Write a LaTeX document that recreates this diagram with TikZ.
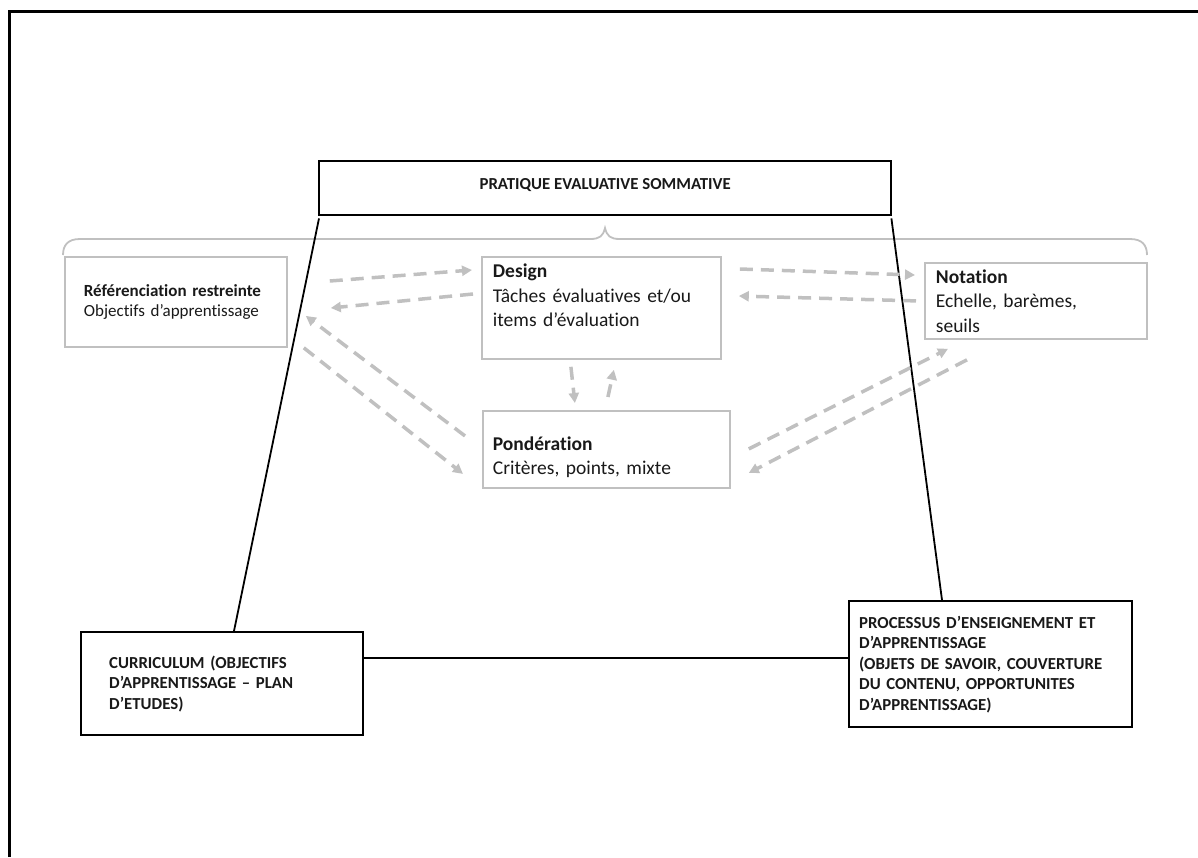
\documentclass[tikz,border=0pt]{standalone}
\usepackage{fontspec}
\setmainfont{Carlito}[Ligatures=NoCommon]
\usetikzlibrary{arrows.meta}
\definecolor{lightgr}{RGB}{192,192,192}
\definecolor{ink}{RGB}{25,25,25}

\begin{document}
\begin{tikzpicture}[x=1pt,y=-1pt,
	graybox/.style={draw=lightgr,line width=1.8pt,anchor=north west,align=left,inner xsep=11pt,inner ysep=0pt,text=ink},
	blackbox/.style={draw=black,line width=2.4pt,anchor=north west,align=left,inner xsep=10pt,inner ysep=0pt,text=ink,font=\fontsize{16.8}{20.5}\selectfont\bfseries},
	flow/.style={draw=lightgr,line width=3.5pt,dash pattern=on 13pt off 8pt,-{Triangle[length=10pt,width=10pt]}}]
	\useasboundingbox (0,0) rectangle (1198,857);
	\draw[line width=3pt](9,857)--(9,11)--(1198,11);
	\node[blackbox,minimum width=572pt,minimum height=54pt,align=center,text height=11pt,text depth=9pt](top) at (318,160){PRATIQUE EVALUATIVE SOMMATIVE};
	\draw[lightgr,line width=1.8pt](63,255) .. controls (63,245) and (68,239) .. (80,239)--(590,239) .. controls (600,239) and (603,236) .. (605,228) .. controls (607,236) and (610,239) .. (620,239)--(1130,239) .. controls (1142,239) and (1147,245) .. (1147,255);
	\node[graybox,font=\fontsize{17}{20}\selectfont,minimum width=222pt,minimum height=90pt,inner xsep=19pt,text width=184pt](ref) at (64,256){\textbf{Référenciation restreinte}\\Objectifs d’apprentissage};
	\node[graybox,font=\fontsize{19.5}{24.5}\selectfont,minimum width=239pt,minimum height=102pt,text width=217pt](design) at (481,256){\textbf{Design}\\Tâches évaluatives et/ou\\items d’évaluation\\\mbox{}};
	\node[graybox,font=\fontsize{19.5}{24.5}\selectfont,minimum width=222pt,minimum height=76pt,text width=200pt](notation) at (924,262){\textbf{Notation}\\Echelle, barèmes,\\seuils};
	\node[graybox,font=\fontsize{19.5}{24.5}\selectfont,minimum width=247pt,minimum height=77pt,inner xsep=10pt,text width=227pt,text depth=12pt](pond) at (482,410){\textbf{Pondération}\\Critères, points, mixte};
	\node[blackbox,minimum width=282pt,minimum height=103pt,inner xsep=28pt,text width=226pt](curr) at (80,631){CURRICULUM (OBJECTIFS\\D’APPRENTISSAGE – PLAN\\D’ETUDES)};
	\node[blackbox,minimum width=283pt,minimum height=126pt,text width=263pt](proc) at (848,600){PROCESSUS D’ENSEIGNEMENT ET\\D’APPRENTISSAGE\\(OBJETS DE SAVOIR, COUVERTURE\\DU CONTENU, OPPORTUNITES\\D’APPRENTISSAGE)};
	\draw[line width=1.8pt]([shift={(1,2)}]top.south west)--([shift={(154,0)}]curr.north west);
	\draw[line width=1.8pt]([shift={(-1,2)}]top.south east)--([shift={(94,0)}]proc.north west);
	\draw[line width=1.8pt]([shift={(0,27)}]curr.north east)--([shift={(0,58)}]proc.north west);
	\draw[flow]([shift={(42,25)}]ref.north east)--([shift={(-9,14)}]design.north west);
	\draw[flow]([shift={(-8,38)}]design.north west)--([shift={(43,52)}]ref.north east);
	\draw[flow]([shift={(-17,-13.5)}]pond.west)--([shift={(18,14)}]ref.east);
	\draw[flow]([shift={(16,0)}]ref.south east)--([shift={(-19,24.5)}]pond.west);
	\draw[flow]([shift={(18,13)}]design.north east)--([shift={(-9,13)}]notation.north west);
	\draw[flow]([shift={(-8,0)}]notation.west)--([shift={(17,40)}]design.north east);
	\draw[flow]([shift={(18,-0.5)}]pond.east)--([shift={(24,9)}]notation.south west);
	\draw[flow]([shift={(43,20)}]notation.south west)--([shift={(18,23.5)}]pond.east);
	\draw[flow]([shift={(-30.5,7)}]design.south)--([shift={(-31.5,-7)}]pond.north);
	\draw[flow]([shift={(1.5,-13)}]pond.north)--([shift={(12.5,10)}]design.south);
\end{tikzpicture}
\end{document}
